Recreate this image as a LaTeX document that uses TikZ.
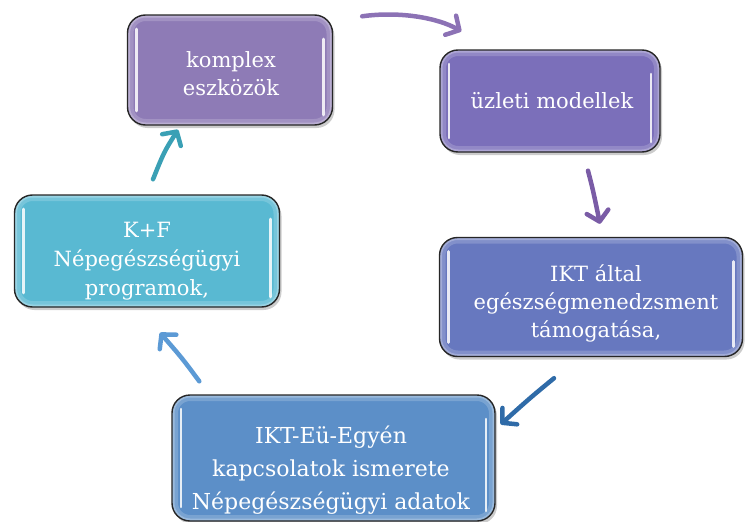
\documentclass[tikz,border=0pt]{standalone}
\usepackage{fontspec}
\setmainfont{DejaVu Serif}
\usetikzlibrary{arrows.meta,shadows,calc}
\definecolor{cA}{HTML}{8E7BB6}
\definecolor{cB}{HTML}{7B6FBA}
\definecolor{cC}{HTML}{6778BF}
\definecolor{cD}{HTML}{5C8FC8}
\definecolor{cE}{HTML}{59B9D2}
\definecolor{aA}{HTML}{8C72B5}
\definecolor{aB}{HTML}{7A5CA6}
\definecolor{aC}{HTML}{2F6BA8}
\definecolor{aD}{HTML}{5C9AD5}
\definecolor{aE}{HTML}{3AA0B5}
\begin{document}
\begin{tikzpicture}[x=1pt,y=-1pt,
  gbox/.style={rounded corners=18pt, draw=black!85, line width=1.4pt,
    inner sep=0pt,
    drop shadow={shadow xshift=2pt, shadow yshift=-3pt, opacity=.4},
    path picture={
      \draw[white, opacity=.18, line width=12pt, rounded corners=18pt]
        (path picture bounding box.south west) rectangle (path picture bounding box.north east);
      \draw[white, opacity=.25, line width=5pt, rounded corners=18pt]
        (path picture bounding box.south west) rectangle (path picture bounding box.north east);
      \draw[white, opacity=.85, line width=2.6pt, line cap=round]
        ([xshift=9pt,yshift=-14pt]path picture bounding box.north west) --
        ([xshift=9pt,yshift=14pt]path picture bounding box.south west);
      \draw[white, opacity=.85, line width=2.6pt, line cap=round]
        ([xshift=-9pt,yshift=-24pt]path picture bounding box.north east) --
        ([xshift=-9pt,yshift=10pt]path picture bounding box.south east);
    }},
  gtext/.style={text=white, align=center, inner sep=0pt,
    font=\fontsize{21}{28}\selectfont},
  arr/.style={line width=4.5pt, line cap=round,
    -{Straight Barb[length=10pt,width=22pt,round]}}
]
\useasboundingbox (0,0) rectangle (745,522);

\node[gbox, fill=cA, minimum width=205pt, minimum height=110pt] (n1) at (230,70) {};
\node[gbox, fill=cB, minimum width=220pt, minimum height=102pt] (n2) at (550,101) {};
\node[gbox, fill=cC, minimum width=303pt, minimum height=119pt] (n3) at (591,297) {};
\node[gbox, fill=cD, minimum width=323pt, minimum height=126pt] (n4) at (333.5,458) {};
\node[gbox, fill=cE, minimum width=265pt, minimum height=112pt] (n5) at (147,251) {};

\node[gtext] (t1) at (231,74) {komplex\\eszközök};
\node[gtext] (t2) at (552,101) {üzleti modellek};
\node[gtext] (t3) at (596,303) {IKT által\\egészségmenedzsment\\támogatása,};
\node[gtext, font=\fontsize{22}{33}\selectfont] (t4) at (331,470)
  {IKT-Eü-Egyén\\kapcsolatok ismerete\\Népegészségügyi adatok};
\node[gtext, font=\fontsize{21}{29}\selectfont] (t5) at (147,261)
  {K+F\\Népegészségügyi\\programok,};

% arrow end points
\coordinate (a1s) at ($(n1.north east)+(29,2)$);
\coordinate (a1e) at ($(n2.north west)+(22,-18)$);
\coordinate (a2s) at ($(n2.south)+(38,18)$);
\coordinate (a2e) at ($(n3.north)+(9,-13)$);
\coordinate (a3s) at ($(n3.south)+(-37,21)$);
\coordinate (a3e) at ($(n4.north east)+(5,30)$);
\coordinate (a4s) at ($(n4.north west)+(28,-13)$);
\coordinate (a4e) at ($(n5.south)+(13,25)$);
\coordinate (a5s) at ($(n5.north)+(6,-15)$);
\coordinate (a5e) at ($(n1.south)+(-52,4)$);

\draw[arr, aA] (a1s) .. controls (400,11) and (438,18) .. (a1e);
\draw[arr, aB] (a2s) .. controls (593,190) .. (a2e);
\draw[arr, aC] (a3s) .. controls (530,398) .. (a3e);
\draw[arr, aD] (a4s) .. controls (182,358) .. (a4e);
\draw[arr, aE] (a5s) .. controls (164,152) .. (a5e);
\end{tikzpicture}
\end{document}
